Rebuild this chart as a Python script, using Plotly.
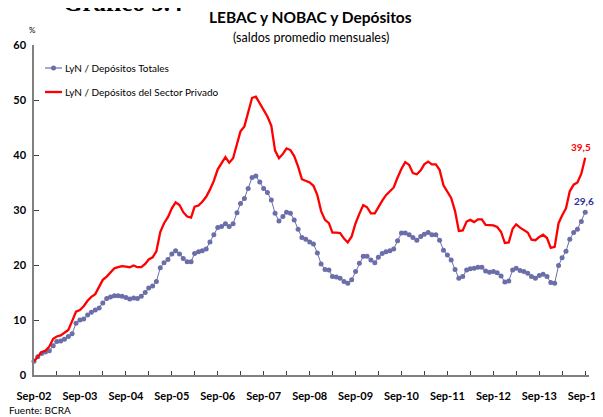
import pandas as pd
import plotly.graph_objects as go

# Monthly, Sep-2002 .. Sep-2014
dates = pd.date_range("2002-09-01", periods=145, freq="MS")

lyn_totales = [
    2.5, 3.3, 3.9, 4.2, 4.4, 5.3, 6.1, 6.2, 6.5, 7.0, 7.5, 9.4,
    10.0, 10.2, 10.9, 11.4, 11.8, 12.2, 13.1, 13.9, 14.2, 14.4, 14.4, 14.3,
    14.1, 13.8, 14.0, 13.9, 14.3, 15.0, 15.8, 16.2, 17.0, 19.5, 20.4, 21.0,
    22.0, 22.6, 22.0, 21.2, 20.6, 20.6, 22.1, 22.4, 22.6, 22.9, 24.2, 25.5,
    26.8, 27.0, 27.5, 27.0, 27.5, 29.5, 31.2, 32.1, 33.9, 35.9, 36.2, 35.1,
    33.9, 33.2, 31.8, 29.4, 28.0, 28.8, 29.6, 29.4, 28.2, 26.5, 25.0, 24.7,
    24.2, 23.8, 22.2, 20.2, 19.2, 19.1, 17.9, 17.8, 17.6, 17.0, 16.7, 17.3,
    18.8, 20.3, 21.6, 21.6, 20.9, 20.4, 21.4, 22.1, 22.4, 22.6, 22.9, 24.4,
    25.8, 25.8, 25.5, 25.0, 24.5, 25.2, 25.6, 25.9, 25.5, 25.5, 24.5, 22.7,
    21.8, 20.9, 19.2, 17.6, 17.9, 19.1, 19.3, 19.4, 19.6, 19.6, 18.9, 18.7,
    18.8, 18.6, 18.0, 16.9, 17.1, 19.1, 19.4, 19.0, 18.8, 18.5, 17.9, 17.6,
    18.1, 18.3, 17.9, 16.8, 16.7, 19.9, 21.3, 22.5, 24.7, 25.9, 26.5, 27.9,
    29.6,
]

lyn_privado = [
    2.5, 3.3, 4.2, 4.4, 5.2, 6.6, 7.0, 7.2, 7.7, 8.2, 9.8, 11.5,
    11.8, 12.5, 13.5, 14.2, 14.7, 16.2, 17.3, 17.9, 18.7, 19.4, 19.6, 19.8,
    19.7, 19.6, 19.9, 19.6, 19.6, 20.2, 21.0, 21.4, 22.5, 26.0, 27.6, 28.7,
    30.3, 31.4, 30.9, 29.6, 28.8, 28.6, 30.6, 30.8, 31.5, 32.4, 33.7, 35.3,
    37.4, 38.5, 39.6, 38.6, 39.4, 42.0, 44.3, 45.2, 47.8, 50.4, 50.6, 49.4,
    48.2, 47.0, 45.3, 40.8, 39.4, 40.2, 41.2, 40.9, 39.8, 37.9, 35.6, 35.3,
    35.0, 34.4, 32.7, 29.8, 28.2, 27.6, 25.9, 25.9, 25.8, 24.8, 24.1, 25.2,
    27.6, 29.3, 30.9, 30.5, 29.4, 29.4, 30.6, 31.7, 32.7, 33.4, 34.1, 35.9,
    37.5, 38.7, 38.2, 36.7, 36.5, 37.2, 38.3, 38.8, 38.3, 38.3, 37.3, 34.5,
    33.3, 32.2, 29.8, 26.2, 26.3, 27.9, 28.2, 27.8, 28.3, 28.3, 27.3, 27.2,
    27.2, 26.9, 26.0, 24.0, 24.1, 26.6, 27.4, 26.8, 26.4, 25.9, 24.6, 24.5,
    25.1, 25.5, 24.9, 23.1, 23.3, 27.6, 29.0, 30.3, 33.4, 34.6, 35.0, 36.6,
    39.5,
]

tick_labels = ["Sep-02", "Sep-03", "Sep-04", "Sep-05", "Sep-06", "Sep-07", "Sep-08",
               "Sep-09", "Sep-10", "Sep-11", "Sep-12", "Sep-13", "Sep-14"]
tick_dates = [f"20{lab[-2:]}-09-01" for lab in tick_labels]
minor_dates = [f"20{lab[-2:]}-03-01" for lab in tick_labels[1:]]

name_tot = "LyN / Depósitos Totales"
name_priv = "LyN / Depósitos del Sector Privado"

BLUE = "#6b6ea8"
BLUE_LABEL = "#2e3192"
RED = "#ff0000"
FONT = "Lato"

fig = go.Figure()
fig.add_trace(go.Scatter(
    x=dates, y=lyn_totales, name=name_tot, mode="lines+markers",
    line=dict(color=BLUE, width=1), marker=dict(color=BLUE, size=5),
    cliponaxis=False, showlegend=False,
))
fig.add_trace(go.Scatter(
    x=dates, y=lyn_privado, name=name_priv, mode="lines",
    line=dict(color=RED, width=2.3), cliponaxis=False, showlegend=False,
))

def fmt(v):
    return f"{v:.1f}".replace(".", ",")

annotations = [
    dict(x=dates[-1], y=lyn_privado[-1], xref="x", yref="y", text=fmt(lyn_privado[-1]),
         showarrow=False, xanchor="right", yanchor="middle", xshift=8, yshift=11,
         font=dict(family=FONT, size=10, color=RED, weight="bold")),
    dict(x=dates[-1], y=lyn_totales[-1], xref="x", yref="y", text=fmt(lyn_totales[-1]),
         showarrow=False, xanchor="right", yanchor="middle", xshift=11, yshift=11,
         font=dict(family=FONT, size=10, color=BLUE_LABEL, weight="bold")),
    dict(x=0.5, y=1, xref="paper", yref="paper", text="LEBAC y NOBAC y Depósitos",
         showarrow=False, xanchor="center", yanchor="middle", xshift=-1, yshift=28,
         font=dict(family=FONT, size=15.5, color="black", weight="bold")),
    dict(x=0.5, y=1, xref="paper", yref="paper", text="(saldos promedio mensuales)",
         showarrow=False, xanchor="center", yanchor="middle", xshift=-1, yshift=8,
         font=dict(family=FONT, size=12.5, color="black")),
    dict(x=0, y=1, xref="paper", yref="paper", text="Gráfico 5.4",
         showarrow=False, xanchor="left", yanchor="bottom", xshift=27, yshift=27,
         font=dict(family="Liberation Serif", size=25, color="black", weight="bold")),
    dict(x=0, y=1, xref="paper", yref="paper", text="%",
         showarrow=False, xanchor="center", yanchor="middle", xshift=-2, yshift=15,
         font=dict(family=FONT, size=8, color="black")),
    dict(x=0, y=0, xref="paper", yref="paper", text="Fuente: BCRA",
         showarrow=False, xanchor="left", yanchor="middle", xshift=-27, yshift=-35,
         font=dict(family=FONT, size=10, color="black")),
    # legend texts
    dict(x=0, y=1, xref="paper", yref="paper", text=name_tot,
         showarrow=False, xanchor="left", yanchor="middle", xshift=29, yshift=-23,
         font=dict(family=FONT, size=10, color="black")),
    dict(x=0, y=1, xref="paper", yref="paper", text=name_priv,
         showarrow=False, xanchor="left", yanchor="middle", xshift=29, yshift=-47,
         font=dict(family=FONT, size=10, color="black")),
]

# legend keys (paper coords: plot area is ~555 px wide x 330 px tall)
W, H = 554.8, 330.0
shapes = [
    dict(type="line", xref="paper", yref="paper", x0=11 / W, x1=28 / W,
         y0=1 - 23 / H, y1=1 - 23 / H, line=dict(color=BLUE, width=1.2)),
    dict(type="circle", xref="paper", yref="paper", x0=17 / W, x1=22 / W,
         y0=1 - 25.5 / H, y1=1 - 20.5 / H, fillcolor=BLUE, line=dict(color=BLUE, width=0)),
    dict(type="line", xref="paper", yref="paper", x0=11 / W, x1=28 / W,
         y0=1 - 47 / H, y1=1 - 47 / H, line=dict(color=RED, width=2.3)),
]

# The page body has an 8 px default margin, so the figure is 8 px smaller
fig.update_layout(
    width=595, height=409,
    margin=dict(l=26, r=14, t=37, b=42, autoexpand=False),
    paper_bgcolor="white", plot_bgcolor="white",
    showlegend=False,
    annotations=annotations, shapes=shapes,
    font=dict(family=FONT, color="black"),
    xaxis=dict(
        type="date", range=["2002-09-01", "2014-10-01"], automargin=False,
        tickvals=tick_dates, ticktext=tick_labels,
        ticks="inside", ticklen=4, tickcolor="#404040", tickwidth=1,
        showline=True, linecolor="#808080", linewidth=1.5,
        showgrid=False, zeroline=False,
        tickfont=dict(family=FONT, size=11, color="black", weight="bold"),
        ticklabelstandoff=10, ticklabeloverflow="allow",
        minor=dict(tickvals=minor_dates, ticks="inside", ticklen=4,
                   tickcolor="#404040", tickwidth=1, showgrid=False),
    ),
    yaxis=dict(
        range=[0, 60], tickvals=[0, 10, 20, 30, 40, 50, 60], automargin=False,
        ticks="inside", ticklen=5, tickcolor="#404040", tickwidth=1,
        showline=True, linecolor="#808080", linewidth=1.5,
        showgrid=False, zeroline=False,
        tickfont=dict(family=FONT, size=11, color="black", weight="bold"),
        ticklabelstandoff=4, ticklabeloverflow="allow",
    ),
)

fig.write_html("out.html")
